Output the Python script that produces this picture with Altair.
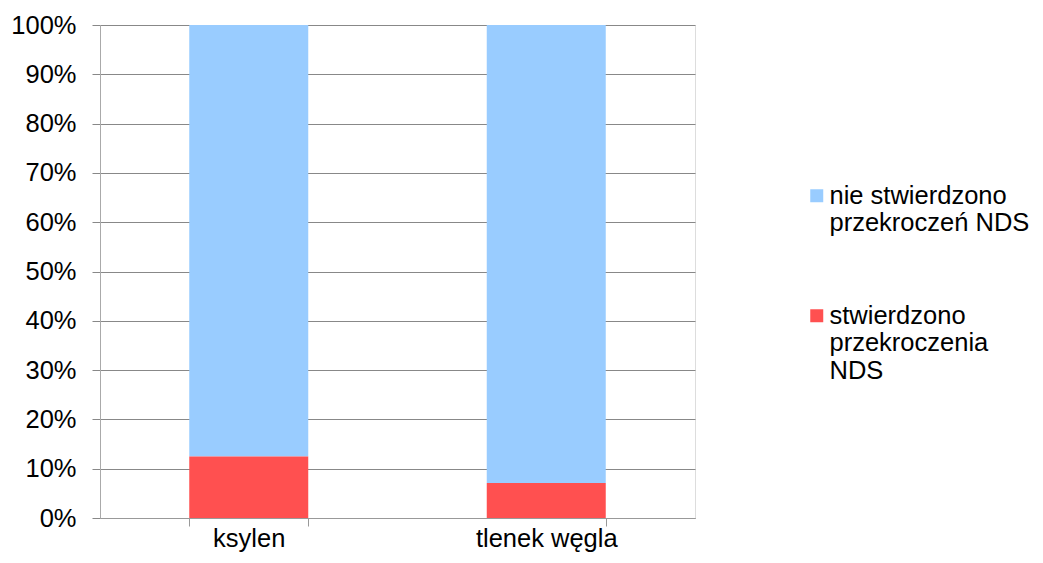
import altair as alt
import pandas as pd

categories = ["ksylen", "tlenek węgla"]
series = ["nie stwierdzono\nprzekroczeń NDS", "stwierdzono\nprzekroczenia\nNDS"]
exceeded = [12.5, 7.1]
not_exceeded = [100 - v for v in exceeded]

rows = []
for c, ne, e in zip(categories, not_exceeded, exceeded):
    rows.append({"cat": c, "series": series[0], "value": ne, "order": 1})
    rows.append({"cat": c, "series": series[1], "value": e, "order": 0})
df = pd.DataFrame(rows)

font = "Liberation Sans"

chart = alt.Chart(df).mark_bar().encode(
    x=alt.X("cat:N", sort=categories, title=None,
            scale=alt.Scale(paddingInner=0.6, paddingOuter=0.3),
            axis=alt.Axis(labelAngle=0, labelFontSize=25.5, labelFont=font, labelColor="#000",
                          tickBand="extent", tickSize=8, tickColor="#999", domainColor="#999",
                          labelPadding=0, domainWidth=1)),
    y=alt.Y("value:Q", stack="normalize", title=None,
            scale=alt.Scale(domain=[0, 1]),
            axis=alt.Axis(format=".0%", values=[i / 10 for i in range(11)],
                          labelFontSize=25.5, labelFont=font, labelColor="#000",
                          grid=True, gridColor="#888", gridWidth=1.2,
                          tickColor="#888", tickSize=8, domainColor="#aaa",
                          labelPadding=16)),
    color=alt.Color("series:N", sort=series,
                    scale=alt.Scale(domain=series, range=["#99CCFF", "#FF5050"]),
                    legend=alt.Legend(title=None, orient="none", legendX=704, legendY=158,
                                      symbolType="square", symbolSize=169, symbolStrokeWidth=0,
                                      labelFontSize=25.5, labelFont=font, labelColor="#000",
                                      labelExpr="split(datum.label, '\\n')",
                                      labelLimit=400, rowPadding=66, labelOffset=0)),
    order=alt.Order("order:Q", sort="ascending"),
).properties(
    width=595, height=493,
    autosize=alt.AutoSizeParams(type="none"),
    padding={"left": 92, "top": 17, "right": 340, "bottom": 37},
).configure_view(stroke=None).configure(background="white")

chart.save("out.html", embed_options={"renderer": "svg", "actions": False})
